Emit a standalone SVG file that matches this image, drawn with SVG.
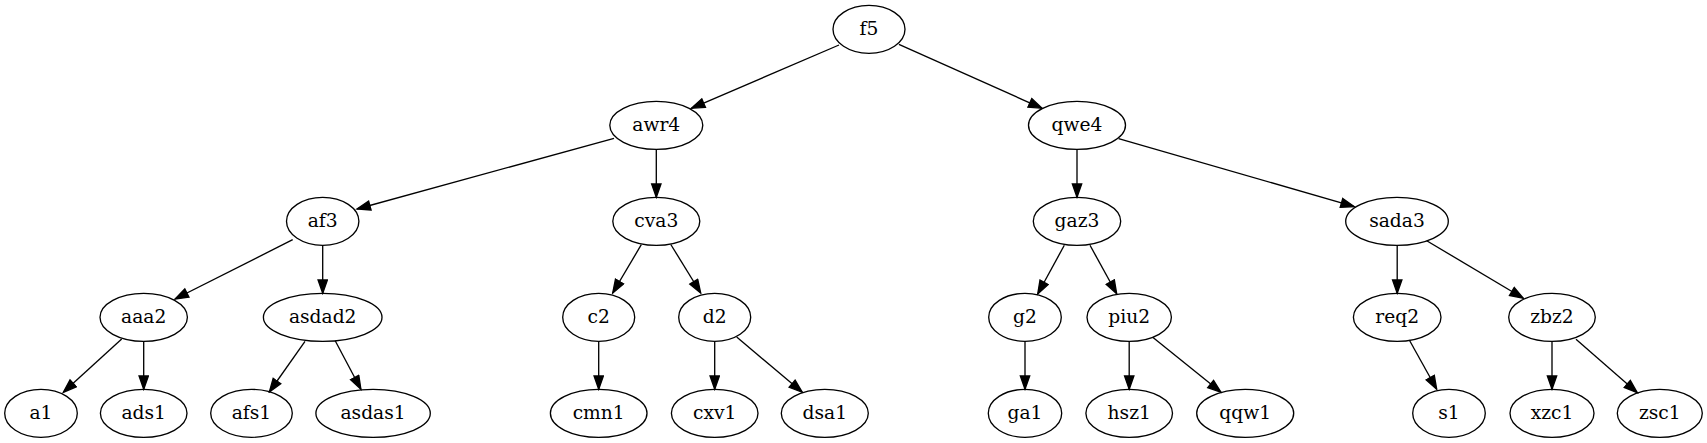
<svg xmlns="http://www.w3.org/2000/svg" width="1707" height="443" viewBox="0 0 1707 443">
<style>
.n ellipse{fill:none;stroke:#000;stroke-width:1.33}
.n text{font-family:"DejaVu Serif","Liberation Serif",serif;font-size:18.67px;text-anchor:middle;fill:#000}
#edges path{fill:none;stroke:#000;stroke-width:1.33;marker-end:url(#ah)}
</style>
<defs>
<marker id="ah" markerUnits="userSpaceOnUse" markerWidth="16" markerHeight="12" viewBox="-1 -1 16 12" refX="13.33" refY="4.67" orient="auto">
<path d="M0,0 L13.33,4.67 L0,9.33 z" fill="#000" stroke="#000" stroke-width="1.33" stroke-linejoin="miter"/>
</marker>
</defs>
<rect width="1707" height="443" fill="#fff"/>
<g id="edges">
<path d="M839,45 L691.4,108.3"/>
<path d="M898.9,44.3 L1042,108.3"/>
<path d="M614,138.3 L357,209"/>
<path d="M656.3,149.3 L656.3,197.3"/>
<path d="M1077,149.3 L1077,197.3"/>
<path d="M1118.6,138.7 L1354.3,206.6"/>
<path d="M292.7,239.7 L175,299"/>
<path d="M322.7,245.3 L322.7,293.3"/>
<path d="M641.3,244.7 L612.7,293"/>
<path d="M670.8,244.5 L700.7,293"/>
<path d="M1064.3,245.3 L1037.7,294"/>
<path d="M1090,245.3 L1116.7,293.7"/>
<path d="M1397.2,245.3 L1397.2,293.3"/>
<path d="M1426.7,240.7 L1523.3,298.3"/>
<path d="M121.7,339 L63.3,392.3"/>
<path d="M143.7,341.3 L143.7,389.3"/>
<path d="M305,341.3 L269.3,392"/>
<path d="M335.2,340.7 L360.9,389.3"/>
<path d="M598.7,341.3 L598.7,389.3"/>
<path d="M714.7,341.3 L714.7,389.3"/>
<path d="M736.7,337 L802.3,392.3"/>
<path d="M1025,341.3 L1025,389.3"/>
<path d="M1129.2,341.3 L1129.2,389.3"/>
<path d="M1152.7,337.3 L1221,392.3"/>
<path d="M1409.3,340 L1436.7,389.3"/>
<path d="M1552,341.3 L1552,389.3"/>
<path d="M1576,339.3 L1637.3,392.7"/>
</g>
<g id="f5" class="n"><ellipse cx="869" cy="29.33" rx="36" ry="24"/><text x="869" y="35.3">f5</text></g>
<g id="awr4" class="n"><ellipse cx="656.3" cy="125.33" rx="46.5" ry="24"/><text x="656.3" y="131.3">awr4</text></g>
<g id="qwe4" class="n"><ellipse cx="1077" cy="125.33" rx="48.5" ry="24"/><text x="1077" y="131.3">qwe4</text></g>
<g id="af3" class="n"><ellipse cx="322.7" cy="221.33" rx="36.2" ry="24"/><text x="322.7" y="227.3">af3</text></g>
<g id="cva3" class="n"><ellipse cx="656.3" cy="221.33" rx="43.5" ry="24"/><text x="656.3" y="227.3">cva3</text></g>
<g id="gaz3" class="n"><ellipse cx="1077" cy="221.33" rx="43.7" ry="24"/><text x="1077" y="227.3">gaz3</text></g>
<g id="sada3" class="n"><ellipse cx="1397" cy="221.33" rx="51.3" ry="24"/><text x="1397" y="227.3">sada3</text></g>
<g id="aaa2" class="n"><ellipse cx="143.7" cy="317.33" rx="43.7" ry="24"/><text x="143.7" y="323.3">aaa2</text></g>
<g id="asdad2" class="n"><ellipse cx="322.7" cy="317.33" rx="59.3" ry="24"/><text x="322.7" y="323.3">asdad2</text></g>
<g id="c2" class="n"><ellipse cx="598.7" cy="317.33" rx="36" ry="24"/><text x="598.7" y="323.3">c2</text></g>
<g id="d2" class="n"><ellipse cx="714.7" cy="317.33" rx="36" ry="24"/><text x="714.7" y="323.3">d2</text></g>
<g id="g2" class="n"><ellipse cx="1025" cy="317.33" rx="36.3" ry="24"/><text x="1025" y="323.3">g2</text></g>
<g id="piu2" class="n"><ellipse cx="1129.2" cy="317.33" rx="42.2" ry="24"/><text x="1129.2" y="323.3">piu2</text></g>
<g id="req2" class="n"><ellipse cx="1397.2" cy="317.33" rx="43.8" ry="24"/><text x="1397.2" y="323.3">req2</text></g>
<g id="zbz2" class="n"><ellipse cx="1552" cy="317.33" rx="43.3" ry="24"/><text x="1552" y="323.3">zbz2</text></g>
<g id="a1" class="n"><ellipse cx="41" cy="413.33" rx="36.3" ry="24"/><text x="41" y="419.3">a1</text></g>
<g id="ads1" class="n"><ellipse cx="143.7" cy="413.33" rx="43.3" ry="24"/><text x="143.7" y="419.3">ads1</text></g>
<g id="afs1" class="n"><ellipse cx="251.5" cy="413.33" rx="40.8" ry="24"/><text x="251.5" y="419.3">afs1</text></g>
<g id="asdas1" class="n"><ellipse cx="373.1" cy="413.33" rx="57.2" ry="24"/><text x="373.1" y="419.3">asdas1</text></g>
<g id="cmn1" class="n"><ellipse cx="598.7" cy="413.33" rx="48.3" ry="24"/><text x="598.7" y="419.3">cmn1</text></g>
<g id="cxv1" class="n"><ellipse cx="714.7" cy="413.33" rx="43.3" ry="24"/><text x="714.7" y="419.3">cxv1</text></g>
<g id="dsa1" class="n"><ellipse cx="824.8" cy="413.33" rx="43.5" ry="24"/><text x="824.8" y="419.3">dsa1</text></g>
<g id="ga1" class="n"><ellipse cx="1025" cy="413.33" rx="36.7" ry="24"/><text x="1025" y="419.3">ga1</text></g>
<g id="hsz1" class="n"><ellipse cx="1129.2" cy="413.33" rx="43.3" ry="24"/><text x="1129.2" y="419.3">hsz1</text></g>
<g id="qqw1" class="n"><ellipse cx="1245.2" cy="413.33" rx="48.5" ry="24"/><text x="1245.2" y="419.3">qqw1</text></g>
<g id="s1" class="n"><ellipse cx="1449" cy="413.33" rx="36.3" ry="24"/><text x="1449" y="419.3">s1</text></g>
<g id="xzc1" class="n"><ellipse cx="1552" cy="413.33" rx="42" ry="24"/><text x="1552" y="419.3">xzc1</text></g>
<g id="zsc1" class="n"><ellipse cx="1659.8" cy="413.33" rx="42.5" ry="24"/><text x="1659.8" y="419.3">zsc1</text></g>
</svg>
